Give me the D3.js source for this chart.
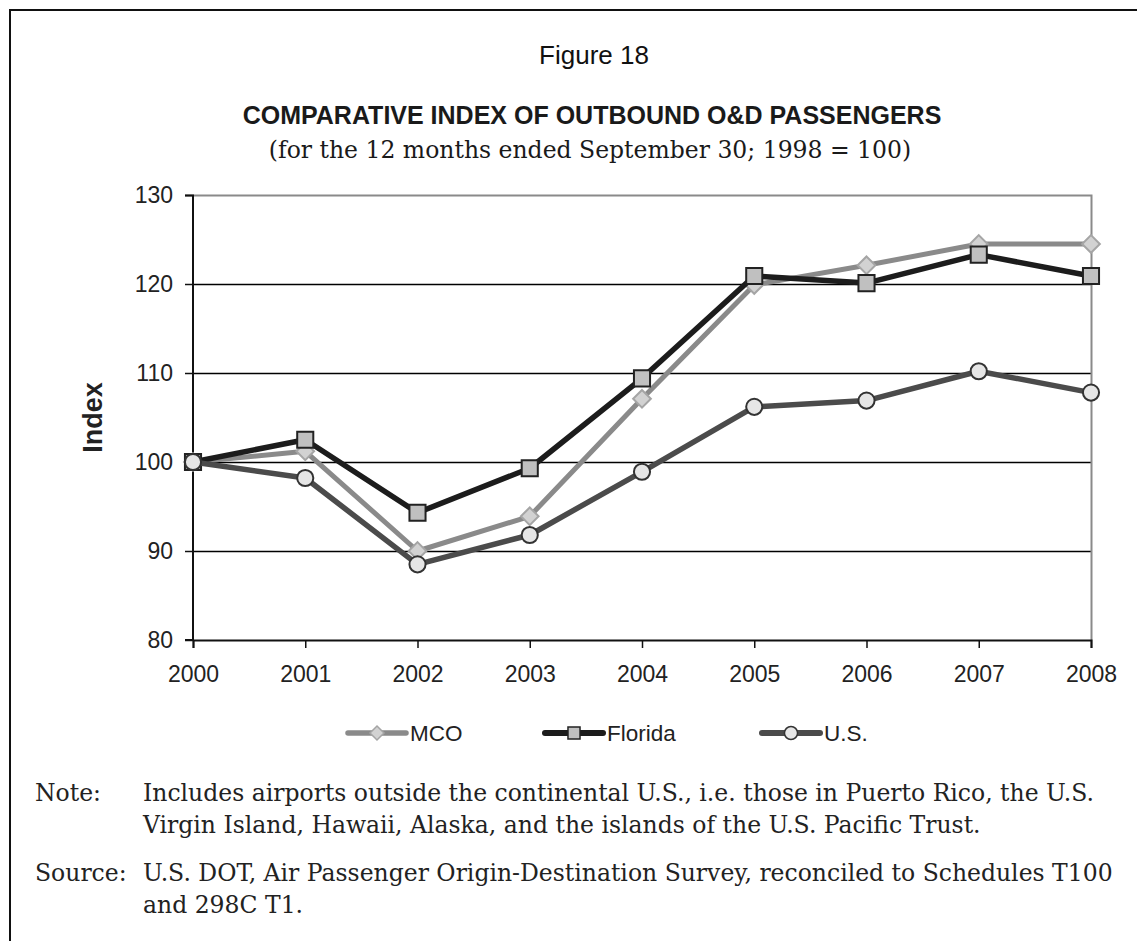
<!DOCTYPE html>
<html>
<head>
<meta charset="utf-8">
<script src="https://cdnjs.cloudflare.com/ajax/libs/d3/7.8.5/d3.min.js"></script>
<style>
  body { margin: 0; background: #fff; }
  svg { display: block; }
</style>
</head>
<body>
<svg id="chart"></svg>
<script>
const years = [2000, 2001, 2002, 2003, 2004, 2005, 2006, 2007, 2008];
const mco = [100, 101.2, 90.0, 93.9, 107.1, 119.9, 122.1, 124.5, 124.5];
const florida = [100, 102.5, 94.3, 99.3, 109.4, 120.9, 120.1, 123.3, 120.9];
const us = [100, 98.2, 88.5, 91.8, 98.9, 106.2, 106.9, 110.2, 107.8];
const yTicks = [80, 90, 100, 110, 120, 130];
const seriesNames = ['MCO', 'Florida', 'U.S.'];

const W = 1137, H = 941;
const margin = { top: 195, right: 46, bottom: 301, left: 193 };
const w = W - margin.left - margin.right;
const h = H - margin.top - margin.bottom;

const sans = 'Arial, "Liberation Sans", sans-serif';
const serif = '"DejaVu Serif", serif';

const svg = d3.select('#chart').attr('width', W).attr('height', H);

// outer frame, only top and left edges are on the page
svg.append('path')
  .attr('d', `M10,${H} V10 H${W}`)
  .attr('fill', 'none')
  .attr('stroke', '#111')
  .attr('stroke-width', 2);

svg.append('text')
  .attr('x', 594).attr('y', 64)
  .attr('text-anchor', 'middle')
  .style('font', `26px ${sans}`)
  .attr('fill', '#111')
  .text('Figure 18');

svg.append('text')
  .attr('x', 592).attr('y', 124)
  .attr('text-anchor', 'middle')
  .style('font', `bold 25px ${sans}`)
  .attr('fill', '#1a1a1a')
  .text('COMPARATIVE INDEX OF OUTBOUND O&D PASSENGERS');

svg.append('text')
  .attr('x', 590).attr('y', 158)
  .attr('text-anchor', 'middle')
  .style('font', `23.5px ${serif}`)
  .attr('fill', '#1a1a1a')
  .text('(for the 12 months ended September 30; 1998 = 100)');

const g = svg.append('g').attr('transform', `translate(${margin.left},${margin.top})`);

const x = d3.scaleLinear().domain([2000, 2008]).range([0, w]);
const y = d3.scaleLinear().domain([80, 130]).range([h, 0]);

// gridlines
g.selectAll('.grid')
  .data(yTicks.filter(t => t > 80 && t < 130))
  .join('line')
  .attr('x1', 0).attr('x2', w)
  .attr('y1', d => Math.round(y(d)) + 0.5).attr('y2', d => Math.round(y(d)) + 0.5)
  .attr('stroke', '#000')
  .attr('stroke-width', 1.5);

// plot area border, top and right in grey
g.append('path')
  .attr('d', `M0,${y(130) + 0.5} H${w + 0.5} V${h}`)
  .attr('fill', 'none')
  .attr('stroke', '#8a8a8a')
  .attr('stroke-width', 2);

const yAxis = d3.axisLeft(y).tickValues(yTicks).tickSize(8).tickPadding(12);
const xAxis = d3.axisBottom(x).tickValues(years).tickFormat(d3.format('d')).tickSize(8).tickPadding(18);

const ya = g.append('g').call(yAxis);
const xa = g.append('g').attr('transform', `translate(0,${h})`).call(xAxis);

[ya, xa].forEach(a => {
  a.select('.domain').attr('stroke', '#111').attr('stroke-width', 2);
  a.selectAll('.tick line').attr('stroke', '#111').attr('stroke-width', 1.5);
  a.selectAll('.tick text')
    .attr('fill', '#222')
    .style('font', `23px ${sans}`);
});
ya.select('.domain').attr('d', `M-8,0.5H0V${h}H-8`);

svg.append('text')
  .attr('transform', `translate(102,${y(105) + margin.top}) rotate(-90)`)
  .attr('text-anchor', 'middle')
  .style('font', `bold 27px ${sans}`)
  .attr('fill', '#222')
  .text('Index');

const styles = [
  { name: seriesNames[0], values: mco, line: '#8a8a8a', lw: 5, shape: d3.symbolDiamond2, fill: '#d2d2d2', stroke: '#a5a5a5', size: 200, legSize: 125 },
  { name: seriesNames[1], values: florida, line: '#1c1c1c', lw: 5.5, shape: d3.symbolSquare2, fill: '#c0c0c0', stroke: '#222', size: 330, legSize: 185 },
  { name: seriesNames[2], values: us, line: '#4b4b4b', lw: 5.5, shape: d3.symbolCircle, fill: '#e6e6e6', stroke: '#333', size: 205, legSize: 135 }
];

const line = d3.line().x(d => x(d.year)).y(d => y(d.v));

styles.forEach(s => {
  const pts = years.map((yr, i) => ({ year: yr, v: s.values[i] }));
  g.append('path')
    .datum(pts)
    .attr('fill', 'none')
    .attr('stroke', s.line)
    .attr('stroke-width', s.lw)
    .attr('stroke-linejoin', 'round')
    .attr('d', line);
  g.selectAll(null)
    .data(pts)
    .join('path')
    .attr('transform', d => `translate(${x(d.year)},${y(d.v)})`)
    .attr('d', d3.symbol().type(s.shape).size(s.size))
    .attr('fill', s.fill)
    .attr('stroke', s.stroke)
    .attr('stroke-width', 2);
});

// legend
const legendX = [348, 545, 762];
const legY = 733;
styles.forEach((s, i) => {
  const lg = svg.append('g').attr('transform', `translate(${legendX[i]},${legY})`);
  lg.append('line')
    .attr('x1', 0).attr('x2', 58)
    .attr('stroke', s.line).attr('stroke-width', s.lw + 0.5)
    .attr('stroke-linecap', 'round');
  lg.append('path')
    .attr('transform', 'translate(29,0)')
    .attr('d', d3.symbol().type(s.shape).size(s.legSize))
    .attr('fill', s.fill).attr('stroke', s.stroke).attr('stroke-width', 1.5);
  lg.append('text')
    .attr('x', 62).attr('y', 8)
    .style('font', `22.5px ${sans}`)
    .attr('fill', '#222')
    .text(s.name);
});

// notes
const notes = [
  { label: 'Note:', lines: ['Includes airports outside the continental U.S., i.e. those in Puerto Rico, the U.S.', 'Virgin Island, Hawaii, Alaska, and the islands of the U.S. Pacific Trust.'], y: 801 },
  { label: 'Source:', lines: ['U.S. DOT, Air Passenger Origin-Destination Survey, reconciled to Schedules T100', 'and 298C T1.'], y: 881 }
];
notes.forEach(n => {
  svg.append('text')
    .attr('x', 35).attr('y', n.y)
    .style('font', `23.5px ${serif}`)
    .attr('fill', '#222')
    .text(n.label);
  n.lines.forEach((t, i) => {
    svg.append('text')
      .attr('x', 143).attr('y', n.y + i * 32)
      .style('font', `23.5px ${serif}`)
      .attr('fill', '#222')
      .text(t);
  });
});
</script>
</body>
</html>
